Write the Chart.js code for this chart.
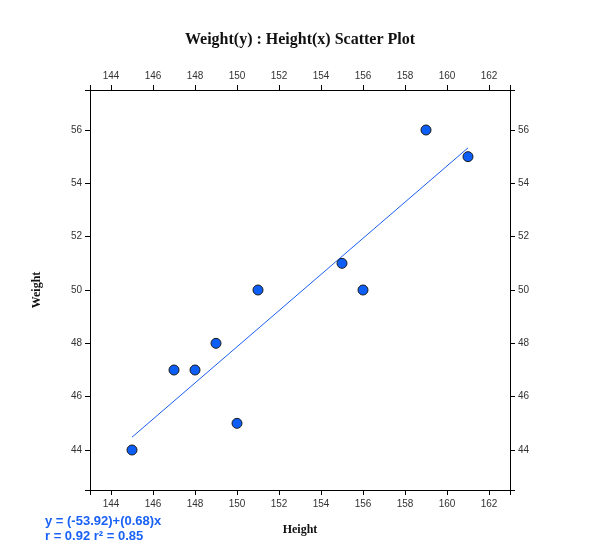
<!DOCTYPE html>
<html>
<head>
<meta charset="utf-8">
<script src="https://cdn.jsdelivr.net/npm/chart.js@4/dist/chart.umd.min.js"></script>
<style>
  html,body{margin:0;padding:0;background:#fff;}
  #wrap{width:600px;height:560px;}
</style>
</head>
<body>
<div id="wrap"><canvas id="chart" width="600" height="560"></canvas></div>
<script>
// Daten
const heights = [145, 147, 148, 149, 150, 151, 155, 156, 159, 161];
const weights = [44, 47, 47, 48, 45, 50, 51, 50, 56, 55];
const fitX = [145, 161];
const fitY = [44.48, 55.33];
const fitLines = ['y = (-53.92)+(0.68)x', 'r = 0.92 r\u00b2 = 0.85'];

// Achsen: Enden + beschriftete Ticks
const xMin = 143, xMax = 163, yMin = 42.5, yMax = 57.5;
const xTicks = [144, 146, 148, 150, 152, 154, 156, 158, 160, 162];
const yTicks = [44, 46, 48, 50, 52, 54, 56];

function labelOf(list){ return v => list.includes(v) ? v : ''; }
function setTicks(min, list, max){ return s => { s.ticks = [min, ...list, max].map(v => ({value:v})); }; }

const tickFont = {family:'Liberation Sans', size:10};
const axisGrid = {drawOnChartArea:false, drawTicks:true, tickLength:5, color:'#000', lineWidth:1};
const axisBorder = {display:true, color:'#000', width:1};
const xTickOpts = {font:tickFont, color:'#333', padding:3, autoSkip:false, callback:labelOf(xTicks), maxRotation:0};
const yTickOpts = {font:tickFont, color:'#333', padding:3, autoSkip:false, callback:labelOf(yTicks)};

// Text unten links
const fitText = {
  id:'fitText',
  afterDraw(chart){
    const ctx = chart.ctx;
    ctx.save();
    ctx.font = 'bold 13px "Liberation Sans"';
    ctx.fillStyle = '#1a62f5';
    ctx.textBaseline = 'alphabetic';
    ctx.fillText(fitLines[0], 45, 525);
    ctx.fillText(fitLines[1], 45, 540);
    ctx.restore();
  }
};

const ctx = document.getElementById('chart').getContext('2d');
new Chart(ctx, {
  data:{
    datasets:[
      {type:'scatter', data:heights.map((h,i)=>({x:h, y:weights[i]})),
       backgroundColor:'#0d5ef7', borderColor:'#1a1a1a', borderWidth:1, pointRadius:5, pointHoverRadius:5, order:1},
      {type:'line', data:fitX.map((x,i)=>({x, y:fitY[i]})),
       borderColor:'#1a5ef0', borderWidth:1, pointRadius:0, fill:false, order:2}
    ]
  },
  options:{
    responsive:false, animation:false,
    layout:{padding:0},
    plugins:{
      legend:{display:false}, tooltip:{enabled:false},
      title:{display:true, text:'Weight(y) : Height(x) Scatter Plot', color:'#111',
        font:{family:'Liberation Serif', size:16, weight:'bold'}, padding:{top:30, bottom:10}}
    },
    scales:{
      x:{type:'linear', position:'bottom', min:xMin, max:xMax, grid:axisGrid, border:axisBorder, ticks:xTickOpts,
         afterBuildTicks:setTicks(xMin, xTicks, xMax),
         title:{display:true, text:'Height', color:'#111', font:{family:'Liberation Serif', size:12, weight:'bold'}, padding:{top:0, bottom:23}},
         afterFit(s){ s.height = 70; }},
      x2:{type:'linear', position:'top', min:xMin, max:xMax, grid:axisGrid, border:axisBorder, ticks:xTickOpts,
         afterBuildTicks:setTicks(xMin, xTicks, xMax),
         afterFit(s){ s.height = 90 - 59.2; }},
      y:{type:'linear', position:'left', min:yMin, max:yMax, grid:axisGrid, border:axisBorder, ticks:yTickOpts,
         afterBuildTicks:setTicks(yMin, yTicks, yMax),
         title:{display:true, text:'Weight', color:'#111', font:{family:'Liberation Serif', size:12, weight:'bold'}, padding:{top:30, bottom:0}},
         afterFit(s){ s.width = 90; }},
      y2:{type:'linear', position:'right', min:yMin, max:yMax, grid:axisGrid, border:axisBorder, ticks:yTickOpts,
         afterBuildTicks:setTicks(yMin, yTicks, yMax),
         afterFit(s){ s.width = 90; }}
    }
  },
  plugins:[fitText]
});
</script>
</body>
</html>
